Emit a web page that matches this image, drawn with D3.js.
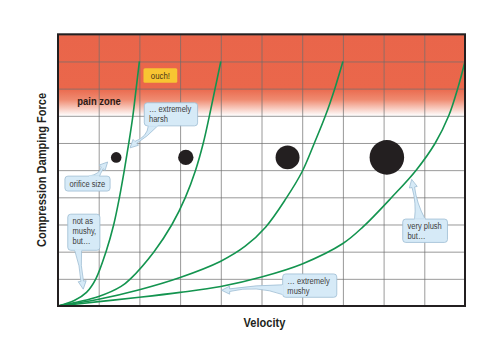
<!DOCTYPE html>
<html>
<head>
<meta charset="utf-8">
<script src="https://cdn.jsdelivr.net/npm/d3@7/dist/d3.min.js"></script>
<style>
  html, body { margin: 0; padding: 0; background: #fff; }
  svg { display: block; }
  text { font-family: "Liberation Sans", Arial, sans-serif; }
</style>
</head>
<body>
<svg id="chart" width="500" height="364"></svg>
<script>
// ---------- data (velocity / force in grid units) ----------
const gridTicks = [0,1,2,3,4,5,6,7,8,9,10];

const curveHarsh = [[0,0],[0.4,0.2],[0.7,0.5],[0.93,1],[1.18,2],[1.37,3],[1.51,4],[1.63,5],[1.74,6],[1.84,7],[1.92,8],[2,9]];
const curveFirm  = [[0,0],[1,0.35],[1.55,0.72],[1.78,1],[2.36,2],[2.8,3],[3.13,4],[3.38,5],[3.57,6],[3.72,7],[3.86,8],[4,9]];
const curveSoft  = [[0,0],[1,0.25],[2,0.6],[3,1.05],[4,1.65],[4.6,2.2],[5.1,2.9],[5.6,3.95],[6,4.95],[6.3,6],[6.57,7],[6.8,8],[7,9]];
const curveMushy = [[0,0],[1,0.16],[2,0.32],[3,0.5],[4,0.72],[5,1.07],[6,1.55],[7,2.3],[7.5,2.92],[8.2,4],[8.8,5],[9.27,6],[9.6,7],[9.82,8],[10,9]];
const curves = [curveHarsh, curveFirm, curveSoft, curveMushy];

const orificeX    = [1.43, 3.14, 5.64, 8.08];
const orificeY    = [5.47, 5.47, 5.47, 5.47];
const orificeSize = [1, 1.45, 2.26, 3.26];

const painZoneFade = 7;   // pain zone fades out down to this force level

const xTitle = "Velocity";
const yTitle = "Compression Damping Force";
const painLabel = "pain zone";
const ouchLabel = "ouch!";
const calloutLines = [
  ["… extremely", "harsh"],
  ["orifice size"],
  ["not as", "mushy,", "but…"],
  ["… extremely", "mushy"],
  ["very plush", "but…"]
];

// ---------- layout ----------
const svg = d3.select("#chart");
const M = {left: 58, right: 465, top: 34.3, bottom: 306};
const x = d3.scaleLinear().domain([0,10]).range([M.left, M.right]);
const y = d3.scaleLinear().domain([0,10]).range([M.bottom, M.top]);
const r = d3.scaleLinear().domain([0,1]).range([0,5.3]);
const NARROW = 0.82;

// narrow text helper (Arial-Narrow-like look via horizontal compression)
function ntext(parent, px, py, str, size, opts = {}) {
  const g = parent.append("g").attr("transform", `translate(${px},${py})${opts.rotate ? " rotate(" + opts.rotate + ")" : ""} scale(${NARROW},1)`);
  return g.append("text").attr("x",0).attr("y",0)
    .attr("font-size", size).attr("fill", opts.fill || "#3d3d3d")
    .attr("font-weight", opts.bold ? "bold" : "normal")
    .attr("text-anchor", opts.anchor || "start")
    .text(str);
}

// callout geometry in data units: box [x1, yTop, x2, yBottom], tail base points, tip, bend (px)
const calloutLayout = [
  {box:[2.12,7.48,3.43,6.63], base:[[2.22,6.63],[2.45,6.63]], tip:[1.77,5.82], bend:-4},
  {box:[0.17,4.78,1.28,4.23], base:[[0.76,4.78],[1.02,4.78]], tip:[1.22,5.30], bend:3},
  {box:[0.24,3.38,1.03,2.05], base:[[0.41,2.05],[0.58,2.05]], tip:[0.62,0.62], bend:0},
  {box:[5.52,1.18,6.85,0.32], base:[[5.52,0.78],[5.52,0.42]], tip:[4.02,0.58], bend:5},
  {box:[8.47,3.2,9.57,2.34], base:[[8.76,3.2],[9.02,3.2]], tip:[8.69,4.66], bend:0}
];

// ---------- defs ----------
const defs = svg.append("defs");
const grad = defs.append("linearGradient").attr("id","pain")
  .attr("gradientUnits","userSpaceOnUse")
  .attr("x1",0).attr("x2",0).attr("y1",y(10)).attr("y2",y(painZoneFade));
grad.append("stop").attr("offset",0).attr("stop-color","#e9654a");
grad.append("stop").attr("offset",0.66).attr("stop-color","#ea674b");
grad.append("stop").attr("offset",0.8).attr("stop-color","#ef8a70");
grad.append("stop").attr("offset",1).attr("stop-color","#ffffff");

// pain zone band
svg.append("rect")
  .attr("x", x(0)).attr("y", y(10))
  .attr("width", x(10)-x(0)).attr("height", y(painZoneFade)-y(10))
  .attr("fill","url(#pain)");

// gridlines through axes
const gx = svg.append("g").attr("transform",`translate(0,${M.bottom})`)
  .call(d3.axisBottom(x).tickValues(gridTicks).tickSize(-(M.bottom-M.top)).tickFormat(""));
const gy = svg.append("g").attr("transform",`translate(${M.left},0)`)
  .call(d3.axisLeft(y).tickValues(gridTicks).tickSize(-(M.right-M.left)).tickFormat(""));
[gx, gy].forEach(g => {
  g.select(".domain").remove();
  g.selectAll(".tick line").attr("stroke","#6e6e6e").attr("stroke-opacity",0.7).attr("stroke-width",1);
});

// pain zone label
ntext(svg, x(0.475), 105.3, painLabel, 11.5, {bold:true, fill:"#2b1a16"});

// ouch box
svg.append("rect")
  .attr("x", x(2.1)).attr("y", y(8.75))
  .attr("width", x(2.93)-x(2.1)).attr("height", y(8.22)-y(8.75))
  .attr("rx",1.5).attr("fill","#f8c532");
ntext(svg, (x(2.1)+x(2.93))/2, y(8.75)+10.3, ouchLabel, 9.5, {anchor:"middle", fill:"#4a3516"});

// curves
const line = d3.line().x(d=>x(d[0])).y(d=>y(d[1])).curve(d3.curveCatmullRom.alpha(0.5));
svg.append("g").selectAll("path").data(curves).join("path")
  .attr("d", line)
  .attr("fill","none").attr("stroke","#13944f").attr("stroke-width",1.6);

// orifice circles
svg.append("g").selectAll("circle").data(orificeSize).join("circle")
  .attr("cx",(d,i)=>x(orificeX[i])).attr("cy",(d,i)=>y(orificeY[i]))
  .attr("r", d=>r(d)).attr("fill","#231f20");

// callouts
const FILL = "#d6eaf7", EDGE = "#9dbdd3";
function tailPath(c){
  const b1 = [x(c.base[0][0]), y(c.base[0][1])];
  const b2 = [x(c.base[1][0]), y(c.base[1][1])];
  const tip = [x(c.tip[0]), y(c.tip[1])];
  const mid = [(b1[0]+b2[0])/2, (b1[1]+b2[1])/2];
  let ux = tip[0]-mid[0], uy = tip[1]-mid[1];
  const len = Math.hypot(ux,uy); ux/=len; uy/=len;
  const nx = -uy, ny = ux;
  const s = Math.sign(((b1[0]-mid[0])*nx+(b1[1]-mid[1])*ny)) || 1;
  const L = 8, W = 4, N = 1.3;
  const neck = [tip[0]-ux*L, tip[1]-uy*L];
  const ctrl = [(mid[0]+neck[0])/2 + nx*c.bend, (mid[1]+neck[1])/2 + ny*c.bend];
  const p = d3.path();
  p.moveTo(b1[0], b1[1]);
  p.quadraticCurveTo(ctrl[0], ctrl[1], neck[0]+nx*N*s, neck[1]+ny*N*s);
  p.lineTo(neck[0]+nx*W*s, neck[1]+ny*W*s);
  p.lineTo(tip[0], tip[1]);
  p.lineTo(neck[0]-nx*W*s, neck[1]-ny*W*s);
  p.lineTo(neck[0]-nx*N*s, neck[1]-ny*N*s);
  p.quadraticCurveTo(ctrl[0], ctrl[1], b2[0], b2[1]);
  p.closePath();
  return {d: p.toString(), b1, b2};
}
const cg = svg.append("g");
calloutLayout.forEach((c,i) => {
  const t = tailPath(c);
  cg.append("path").attr("d", t.d).attr("fill",FILL).attr("stroke",EDGE).attr("stroke-width",0.8).attr("stroke-linejoin","round");
  const bx = x(c.box[0]), by = y(c.box[1]), bw = x(c.box[2])-bx, bh = y(c.box[3])-by;
  cg.append("rect").attr("x",bx).attr("y",by).attr("width",bw).attr("height",bh)
    .attr("rx",3).attr("fill",FILL).attr("stroke",EDGE).attr("stroke-width",0.8);
  cg.append("line").attr("x1",t.b1[0]).attr("y1",t.b1[1]).attr("x2",t.b2[0]).attr("y2",t.b2[1])
    .attr("stroke",FILL).attr("stroke-width",1.6);
  const lines = calloutLines[i];
  const single = lines.length === 1;
  lines.forEach((s,j) => {
    ntext(cg, bx+4.7, single ? by+bh/2+3.2 : by+9.6+j*10.1, s, 9.2, {fill:"#3d3d3d"});
  });
});

// frame
svg.append("rect")
  .attr("x", M.left).attr("y", M.top)
  .attr("width", M.right-M.left).attr("height", M.bottom-M.top)
  .attr("fill","none").attr("stroke","#231f20").attr("stroke-width",2);

// axis titles
ntext(svg, (M.left+M.right)/2 + 3, 326.5, xTitle, 13.5, {anchor:"middle", bold:true, fill:"#231f20"});
ntext(svg, 46, 170, yTitle, 13.5, {anchor:"middle", bold:true, fill:"#231f20", rotate:-90});
</script>
</body>
</html>
